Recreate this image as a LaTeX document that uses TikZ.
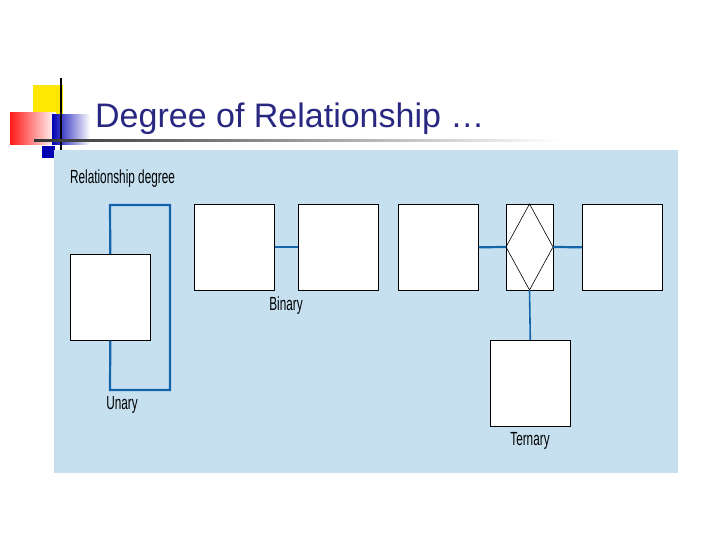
\documentclass[tikz,border=0pt]{standalone}
\usepackage{fontspec}
\setmainfont{Liberation Sans}
\definecolor{panel}{RGB}{198,224,240}
\definecolor{loopblue}{RGB}{20,100,170}
\definecolor{titleblue}{RGB}{40,40,130}
\tikzset{
  entity/.style={draw=black,fill=white,minimum width=80,minimum height=86,inner sep=0pt,line width=0.6pt},
  link/.style={draw=loopblue,line width=2.2pt},
  lbl/.style={font=\fontsize{19}{19}\selectfont,xscale=0.62,inner sep=0pt}
}
\begin{document}
\begin{tikzpicture}[x=1pt,y=-1pt]
\useasboundingbox (0,0) rectangle (720,540);
% logo
\fill[yellow!90!orange] (33,85) rectangle (63,115);
\shade[left color=red!90,right color=white] (10,113) rectangle (56,145);
\shade[left color=blue!70!black,right color=white] (52,115) rectangle (90,145);
\fill[blue!70!black] (42,146) rectangle (55,158);
\draw[line width=1.2pt] (61,78) -- (61,158);
\shade[left color=black!80,right color=white] (34,140) rectangle (560,142);
\node[anchor=base west,text=titleblue,font=\fontsize{34}{34}\selectfont,inner sep=0pt] (title) at (95,128) {Degree of Relationship …};
% panel
\fill[panel] (54,150) rectangle (678,473);
\node[lbl,anchor=north west] (head) at (70,170) {Relationship degree};
% unary
\node[entity,anchor=north west] (u) at (70,254) {};
\coordinate (u1) at (110,205);
\coordinate (u2) at (170,205);
\coordinate (u3) at (170,390);
\coordinate (u4) at (110,390);
\draw[link] (u.north) -- (u1) -- (u2) -- (u3) -- (u4) -- (u.south);
\node[lbl,anchor=north] (ul) at (122,396) {Unary};
% binary
\node[entity,anchor=north west] (b1) at (194,204) {};
\node[entity,anchor=north west] (b2) at (298,204) {};
\draw[link] (b1) -- (b2);
\node[lbl,anchor=north] (bl) at (286,297) {Binary};
% ternary
\node[entity,anchor=north west] (t1) at (398,204) {};
\node[entity,anchor=north west,minimum width=47] (tr) at (506,204) {};
\node[entity,anchor=north west] (t2) at (582,204) {};
\node[entity,anchor=north west] (t3) at (490,340) {};
\coordinate (dn) at (529.5,204);
\coordinate (de) at (553,247);
\coordinate (ds) at (529.5,290);
\coordinate (dw) at (506,247);
\draw[line width=0.6pt] (dn) -- (de) -- (ds) -- (dw) -- cycle;
\draw[link] (t1.east) -- (dw);
\draw[link] (de) -- (t2.west);
\draw[link,line width=1.6pt] (ds) -- (t3.north);
\node[lbl,anchor=north] (tl) at (530,432) {Ternary};
\end{tikzpicture}
\end{document}
